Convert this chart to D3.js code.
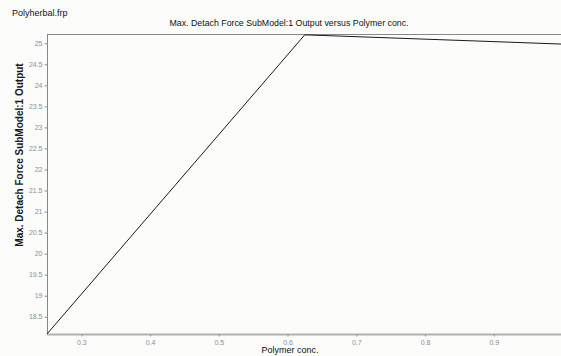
<!DOCTYPE html>
<html>
<head>
<meta charset="utf-8">
<script src="https://cdn.jsdelivr.net/npm/d3@7"></script>
<style>
  body { margin: 0; background: #fcfcfa; }
  svg { display: block; font-family: "Liberation Sans", Arial, sans-serif; }
</style>
</head>
<body>
<div id="chart"></div>
<script>
const conc = [0.25, 0.625, 1.0];
const force = [18.09, 25.2, 24.98];
const xTicks = [0.3, 0.4, 0.5, 0.6, 0.7, 0.8, 0.9, 1];
const yTicks = [18.5, 19, 19.5, 20, 20.5, 21, 21.5, 22, 22.5, 23, 23.5, 24, 24.5, 25];

const W = 561, H = 356;
const margin = { top: 34, right: 0, bottom: 22, left: 47 };

const svg = d3.select("#chart")
  .append("svg")
  .attr("width", W)
  .attr("height", H);

svg.append("rect").attr("width", W).attr("height", H).attr("fill", "#fcfcfa");

const x = d3.scaleLinear().domain([0.25, 1.0]).range([margin.left, W + 1.5]);
const y = d3.scaleLinear().domain([18.09, 25.22]).range([H - margin.bottom, margin.top]);

// file name + title
svg.append("text")
  .attr("x", 12).attr("y", 16)
  .attr("fill", "#111")
  .style("font-size", "9px")
  .text("Polyherbal.frp");

svg.append("text")
  .attr("x", 289).attr("y", 26)
  .attr("text-anchor", "middle")
  .attr("fill", "#111")
  .style("font-size", "8.8px")
  .text("Max. Detach Force SubModel:1 Output versus Polymer conc.");

// top frame line
svg.append("line")
  .attr("x1", margin.left).attr("x2", W)
  .attr("y1", margin.top + 0.5).attr("y2", margin.top + 0.5)
  .attr("stroke", "#7f8b88");

// y axis
const yAxis = svg.append("g")
  .attr("transform", `translate(${margin.left + 0.5},0)`)
  .call(d3.axisLeft(y).tickValues(yTicks).tickSize(3).tickPadding(2).tickFormat(d3.format("")));
yAxis.select(".domain").attr("stroke", "#7f8b88").attr("d", `M0,${margin.top}V${H - margin.bottom}`);
yAxis.selectAll(".tick line").attr("stroke", "#8a9592");
yAxis.selectAll(".tick text").attr("fill", "#8a8f96").style("font-size", "7px");

// x axis
const xAxis = svg.append("g")
  .attr("transform", `translate(0,${H - margin.bottom + 0.5})`)
  .call(d3.axisBottom(x).tickValues(xTicks).tickSize(2).tickPadding(4).tickFormat(d3.format("")));
xAxis.select(".domain").attr("stroke", "#aab3b2").attr("stroke-width", 2).attr("d", `M${margin.left},0H${W}`);
xAxis.selectAll(".tick line").attr("stroke", "#8a9592");
xAxis.selectAll(".tick text").attr("fill", "#8a8f96").style("font-size", "7px");

// axis labels
svg.append("text")
  .attr("x", 290).attr("y", 353)
  .attr("text-anchor", "middle")
  .attr("fill", "#111")
  .style("font-size", "9px")
  .text("Polymer conc.");

svg.append("text")
  .attr("transform", `translate(23,155) rotate(-90)`)
  .attr("text-anchor", "middle")
  .attr("fill", "#1a1a1a")
  .style("font-size", "10px")
  .style("font-weight", "bold")
  .text("Max. Detach Force SubModel:1 Output");

// line
const pts = conc.map((c, i) => [c, force[i]]);
svg.append("path")
  .datum(pts)
  .attr("fill", "none")
  .attr("stroke", "#1a1a1a")
  .attr("stroke-width", 1)
  .attr("d", d3.line().x(d => x(d[0])).y(d => y(d[1])));
</script>
</body>
</html>
